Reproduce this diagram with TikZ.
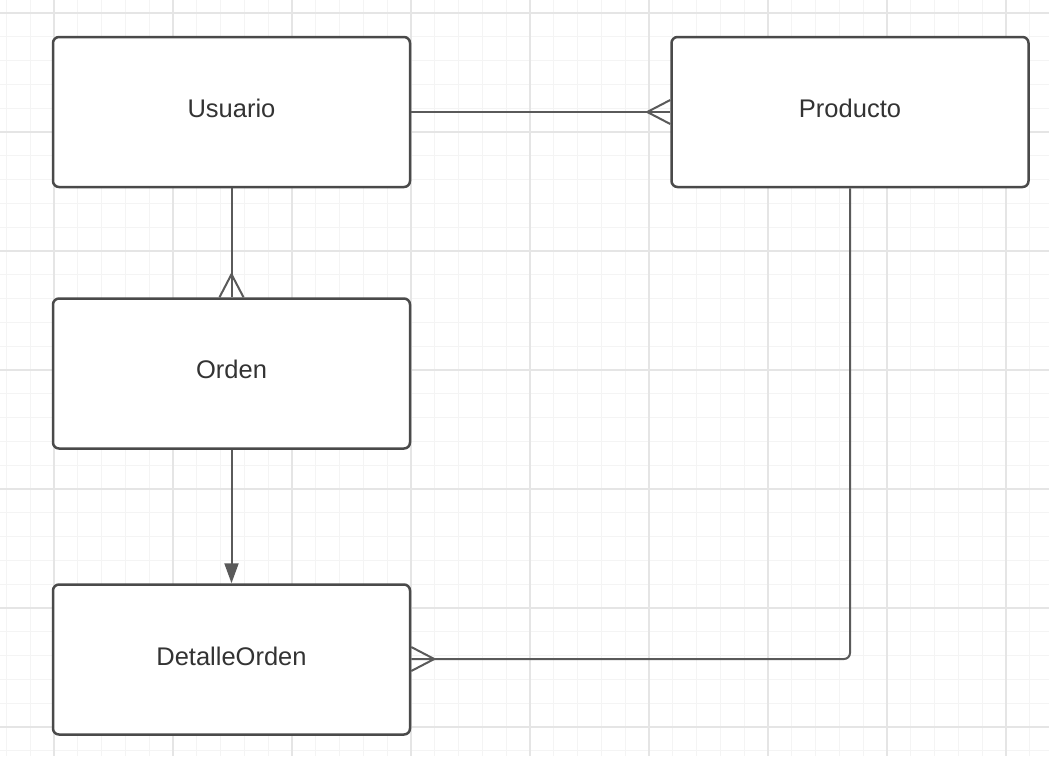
\documentclass[tikz,border=0pt]{standalone}
\usepackage{fontspec}
\setmainfont{Liberation Sans}
\usetikzlibrary{calc,arrows.meta}
\definecolor{boxline}{HTML}{4A4A4A}
\definecolor{conn}{HTML}{5A5A5A}
\definecolor{txt}{HTML}{333333}
\definecolor{gridmajor}{HTML}{E5E5E5}
\definecolor{gridminor}{HTML}{F4F4F4}
\tikzset{
  erbox/.style={draw=boxline, line width=2.5pt, rounded corners=6pt, fill=white,
    minimum width=357pt, minimum height=150pt, inner sep=0pt},
  lbl/.style={text=txt, font=\fontsize{25.5}{30}\selectfont, inner sep=0pt},
  conline/.style={draw=conn, line width=2pt},
  crowfoot/.style={draw=conn, line width=2pt},
}
\begin{document}
\begin{tikzpicture}[x=1pt,y=-1pt]
\useasboundingbox (0,0) rectangle (1049,756);
\fill[white] (0,0) rectangle (1049,756);
% minor grid
\foreach \i in {-2,...,43} {
  \draw[gridminor, line width=1pt] ({54+23.8*\i},0) -- ({54+23.8*\i},756);
}
\foreach \j in {0,...,32} {
  \draw[gridminor, line width=1pt] (0,{13+23.8*\j}) -- (1049,{13+23.8*\j});
}
% major grid
\foreach \i in {0,...,8} {
  \draw[gridmajor, line width=1.3pt] ({54+119*\i},0) -- ({54+119*\i},756);
}
\foreach \j in {0,...,6} {
  \draw[gridmajor, line width=1.3pt] (0,{13+119*\j}) -- (1049,{13+119*\j});
}

\coordinate (bend) at (850,659);

% boxes
\node[erbox] (usuario) at (231.5,112) {};
\node[erbox] (producto) at (850,112) {};
\node[erbox] (orden) at (231.5,373.5) {};
\node[erbox] (detalle) at (231.5,659.5) {};

\node[lbl] (usuarioT) at ([yshift=4pt]usuario.center) {Usuario};
\node[lbl] (productoT) at ([yshift=4pt]producto.center) {Producto};
\node[lbl] (ordenT) at ([yshift=4pt]orden.center) {Orden};
\node[lbl] (detalleT) at ([yshift=3pt]detalle.center) {DetalleOrden};

% Usuario -- Producto (crow's foot at Producto)
\draw[conline] (usuario.east) -- (producto.west);
\draw[crowfoot] ($(producto.west)+(0,-12)$) -- ($(producto.west)+(-23,0)$) -- ($(producto.west)+(0,12)$);

% Usuario -- Orden (crow's foot at Orden)
\draw[conline] (usuario.south) -- (orden.north);
\draw[crowfoot] ($(orden.north)+(-12,0)$) -- ($(orden.north)+(0,-23)$) -- ($(orden.north)+(12,0)$);

% Orden -> DetalleOrden
\draw[conline, -{Triangle[length=20pt,width=14pt]}] (orden.south) -- (detalle.north);

% Producto -- DetalleOrden (crow's foot at DetalleOrden)
\draw[conline, rounded corners=6pt] (producto.south) -- (bend) -- (detalle.east |- bend);
\draw[crowfoot] ($(detalle.east |- bend)+(0,-12)$) -- ($(detalle.east |- bend)+(23,0)$) -- ($(detalle.east |- bend)+(0,12)$);
\end{tikzpicture}
\end{document}
